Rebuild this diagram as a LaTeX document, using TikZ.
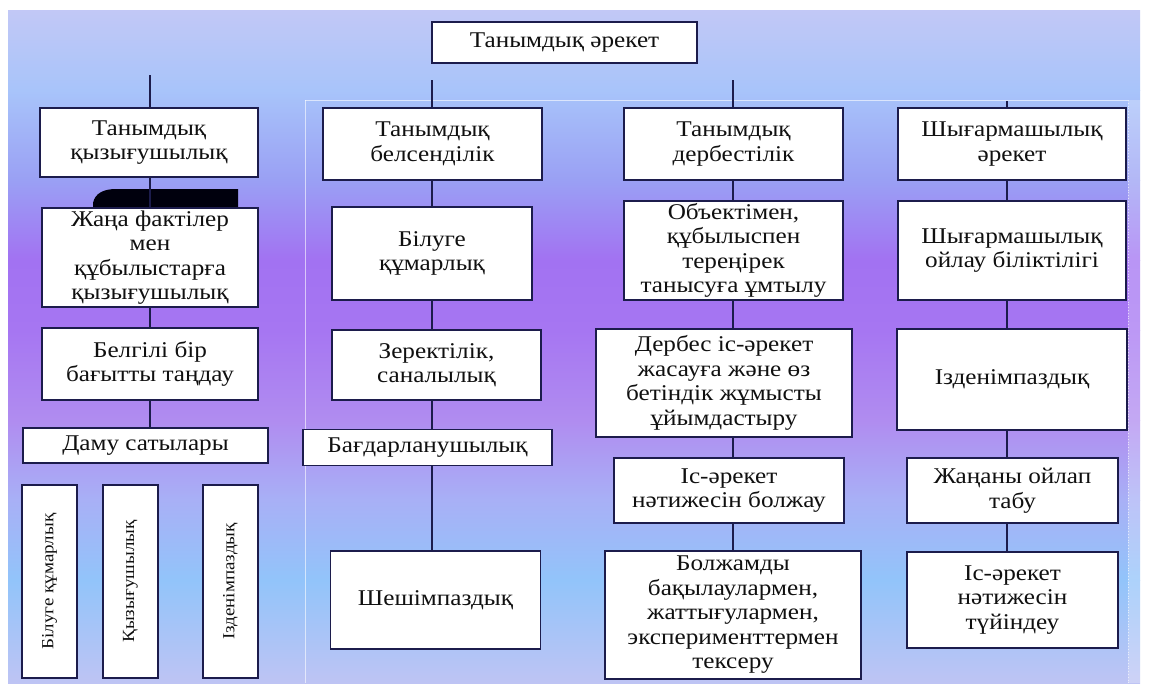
\documentclass[tikz,border=0pt]{standalone}
\usepackage{fontspec}
\setmainfont[FakeStretch=1.12]{Liberation Serif}
\definecolor{navy}{HTML}{1C1C4C}
\definecolor{txt}{HTML}{101010}
\definecolor{g0}{HTML}{C2C8F6}
\definecolor{g1}{HTML}{A8C4FA}
\definecolor{g2}{HTML}{9AA0F4}
\definecolor{g3}{HTML}{A272F2}
\definecolor{g4}{HTML}{A676F2}
\definecolor{g5}{HTML}{B08CF0}
\definecolor{g6}{HTML}{A8B0F6}
\definecolor{g7}{HTML}{92C4FA}
\definecolor{g8}{HTML}{BEC4F4}
\tikzset{
  box/.style={draw=navy, fill=white, line width=1.4pt, align=center, inner sep=0pt,
    text=txt, font=\fontsize{22.5}{24.5}\selectfont},
  vbox/.style={draw=navy, fill=white, line width=1.6pt, inner sep=0pt,
    minimum width=55pt, minimum height=193pt},
  vtext/.style={rotate=90, text=txt, font=\fontsize{17}{20}\selectfont},
  conn/.style={draw=navy, line width=1.6pt},
  faint/.style={draw=white, opacity=0.6, line width=0.8pt}
}
\begin{document}
\begin{tikzpicture}[x=1pt,y=-1pt]
\useasboundingbox (0,0) rectangle (1157,683);
\fill[white] (0,0) rectangle (1157,683);
% background gradient
\shade[top color=g0, bottom color=g1] (8,10) rectangle (1140,90);
\shade[top color=g1, bottom color=g2] (8,90) rectangle (1140,180);
\shade[top color=g2, bottom color=g3] (8,180) rectangle (1140,260);
\shade[top color=g3, bottom color=g4] (8,260) rectangle (1140,330);
\shade[top color=g4, bottom color=g5] (8,330) rectangle (1140,420);
\shade[top color=g5, bottom color=g6] (8,420) rectangle (1140,500);
\shade[top color=g6, bottom color=g7] (8,500) rectangle (1140,580);
\shade[top color=g7, bottom color=g8] (8,580) rectangle (1140,683);
\fill[white, opacity=0.25] (1128,100) rectangle (1157,683);
\draw[faint] (305,100) -- (1128,100);
\draw[faint] (305,100) -- (305,683);
\draw[faint, dotted] (1128,100) -- (1128,683);

% coordinates for connector columns
\coordinate (t1) at (150,75);
\coordinate (t2) at (432,80);
\coordinate (t3) at (733,80);
\coordinate (t4) at (1007,101);

% black blob
\fill[black!95!blue] (93,207) -- (93,203) .. controls (95,193) and (104,189) .. (116,189) -- (238,189) -- (238,207) -- cycle;

% top
\node[box, minimum width=265pt, minimum height=41pt] (top) at (564.5,42.5) {Танымдық әрекет};

% left column
\node[box, minimum width=218pt, minimum height=69pt] (L1) at (149,142.5) {Танымдық\\қызығушылық};
\node[box, minimum width=216pt, minimum height=99pt] (L2) at (150,257.5) {Жаңа фактілер\\мен\\құбылыстарға\\қызығушылық};
\node[box, minimum width=216pt, minimum height=72pt] (L3) at (150,364) {Белгілі бір\\бағытты таңдау};
\node[box, minimum width=245pt, minimum height=35pt] (L4) at (145.5,445.5) {Даму сатылары};
\node[vbox] (V1) at (49.5,581.5) {};
\node[vbox] (V2) at (130.5,581.5) {};
\node[vbox] (V3) at (230.5,581.5) {};
\node[vtext] (V1t) at (V1) {Білуге құмарлық};
\node[vtext] (V2t) at (V2) {Қызығушылық};
\node[vtext] (V3t) at (V3) {Ізденімпаздық};

% column 2
\node[box, minimum width=219pt, minimum height=72pt] (A1) at (432.5,144) {Танымдық\\белсенділік};
\node[box, minimum width=200pt, minimum height=93pt] (A2) at (432,253.5) {Білуге\\құмарлық};
\node[box, minimum width=209pt, minimum height=70pt] (A3) at (436.5,365) {Зеректілік,\\саналылық};
\node[box, minimum width=249pt, minimum height=36pt] (A4) at (427.5,447.5) {Бағдарланушылық};
\node[box, minimum width=210pt, minimum height=98pt] (A5) at (435.5,600) {Шешімпаздық};

% column 3
\node[box, minimum width=219pt, minimum height=72pt] (B1) at (733.5,144) {Танымдық\\дербестілік};
\node[box, minimum width=219pt, minimum height=99pt] (B2) at (733.5,250.5) {Объектімен,\\құбылыспен\\тереңірек\\танысуға ұмтылу};
\node[box, minimum width=256pt, minimum height=108pt] (B3) at (724,383) {Дербес іс-әрекет\\жасауға және өз\\бетіндік жұмысты\\ұйымдастыру};
\node[box, minimum width=230pt, minimum height=65pt] (B4) at (729,490.5) {Іс-әрекет\\нәтижесін болжау};
\node[box, minimum width=256pt, minimum height=128pt] (B5) at (733,615) {Болжамды\\бақылаулармен,\\жаттығулармен,\\эксперименттермен\\тексеру};

% column 4
\node[box, minimum width=228pt, minimum height=72pt] (C1) at (1012,144) {Шығармашылық\\әрекет};
\node[box, minimum width=228pt, minimum height=99pt] (C2) at (1012,250.5) {Шығармашылық\\ойлау біліктілігі};
\node[box, minimum width=230pt, minimum height=101pt] (C3) at (1012,379.5) {Ізденімпаздық};
\node[box, minimum width=211pt, minimum height=65pt] (C4) at (1012.5,490.5) {Жаңаны ойлап\\табу};
\node[box, minimum width=211pt, minimum height=96pt] (C5) at (1012.5,600) {Іс-әрекет\\нәтижесін\\түйіндеу};

% connectors
\draw[conn] (t1) -- (L1.north -| t1);
\draw[conn] (L1.south -| t1) -- (L2.north -| t1);
\draw[conn] (L2.south -| t1) -- (L3.north -| t1);
\draw[conn] (L3.south -| t1) -- (L4.north -| t1);

\draw[conn] (t2) -- (A1.north -| t2);
\draw[conn] (A1.south -| t2) -- (A2.north -| t2);
\draw[conn] (A2.south -| t2) -- (A3.north -| t2);
\draw[conn] (A3.south -| t2) -- (A4.north -| t2);
\draw[conn] (A4.south -| t2) -- (A5.north -| t2);

\draw[conn] (t3) -- (B1.north -| t3);
\draw[conn] (B1.south -| t3) -- (B2.north -| t3);
\draw[conn] (B2.south -| t3) -- (B3.north -| t3);
\draw[conn] (B3.south -| t3) -- (B4.north -| t3);
\draw[conn] (B4.south -| t3) -- (B5.north -| t3);

\draw[conn] (t4) -- (C1.north -| t4);
\draw[conn] (C1.south -| t4) -- (C2.north -| t4);
\draw[conn] (C2.south -| t4) -- (C3.north -| t4);
\draw[conn] (C3.south -| t4) -- (C4.north -| t4);
\draw[conn] (C4.south -| t4) -- (C5.north -| t4);
\end{tikzpicture}
\end{document}
